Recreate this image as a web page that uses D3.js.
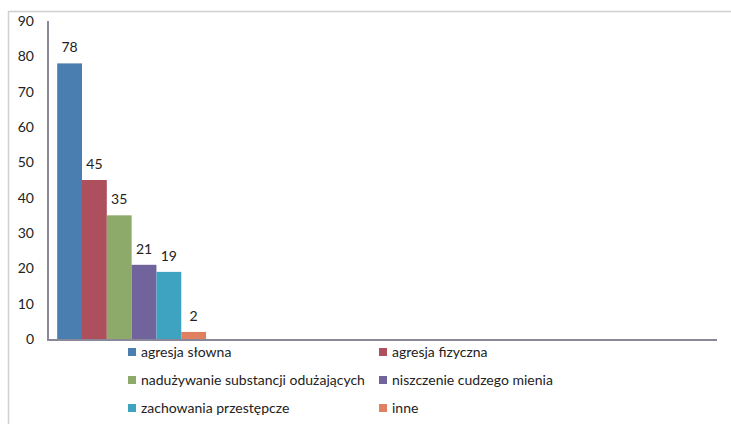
<!DOCTYPE html>
<html>
<head>
<meta charset="utf-8">
<script src="https://d3js.org/d3.v7.min.js"></script>
<style>
  body { margin: 0; background: #fff; }
  svg text { font-family: Lato, "Open Sans", sans-serif; fill: #222; }
  .tick-label { font-size: 14px; }
  .bar-label { font-size: 14px; }
  .legend-text { font-size: 14px; }
</style>
</head>
<body>
<div id="chart"></div>
<script>
// ---------- DATA -----------
var categories = ["k1", "k2", "k3", "k4"];   // only the first one has data
var seriesNames = ["agresja słowna", "agresja fizyczna", "nadużywanie substancji odużających",
                   "niszczenie cudzego mienia", "zachowania przestępcze", "inne"];
var seriesValues = [78, 45, 35, 21, 19, 2];
var seriesColors = ["#4a7eb0", "#ae4f5e", "#8eaa6a", "#71649c", "#3ea3c0", "#e08060"];
var yTicks = [0, 10, 20, 30, 40, 50, 60, 70, 80, 90];

var width = 731, height = 424;

var svg = d3.select("#chart").append("svg")
  .attr("width", width)
  .attr("height", height);

// frame (only top + left edges show in the crop)
svg.append("line").attr("x1", 8).attr("x2", width).attr("y1", 11.5).attr("y2", 11.5)
  .attr("stroke", "#cfcfd4").attr("stroke-width", 1.5);
svg.append("line").attr("x1", 8.5).attr("x2", 8.5).attr("y1", 11).attr("y2", height)
  .attr("stroke", "#cfcfd4").attr("stroke-width", 1.5);

var x0 = d3.scaleBand().domain(categories).range([48, 717]).paddingInner(0).paddingOuter(0);
var x1 = d3.scaleBand().domain(seriesNames).range([0, x0.bandwidth()]).paddingInner(0).paddingOuter(0.37);
var y = d3.scaleLinear().domain([0, 90]).range([339, 21]);

// y tick labels
svg.selectAll(".tick-label")
  .data(yTicks)
  .enter()
  .append("text")
  .attr("class", "tick-label")
  .attr("x", 34)
  .attr("y", function(d) { return y(d); })
  .attr("dy", "0.35em")
  .attr("text-anchor", "end")
  .text(function(d) { return d; });

// bars
var group = svg.append("g").attr("transform", "translate(" + x0(categories[0]) + ",0)");

group.selectAll("rect")
  .data(seriesValues)
  .enter()
  .append("rect")
  .attr("x", function(d, i) { return x1(seriesNames[i]); })
  .attr("y", function(d) { return y(d); })
  .attr("width", x1.bandwidth())
  .attr("height", function(d) { return y(0) - y(d); })
  .attr("fill", function(d, i) { return seriesColors[i]; });

group.selectAll(".bar-label")
  .data(seriesValues)
  .enter()
  .append("text")
  .attr("class", "bar-label")
  .attr("x", function(d, i) { return x1(seriesNames[i]) + x1.bandwidth() / 2; })
  .attr("y", function(d) { return y(d) - 11; })
  .attr("text-anchor", "middle")
  .text(function(d) { return d; });

// axes
svg.append("line").attr("x1", 48).attr("x2", 48).attr("y1", 21).attr("y2", 340)
  .attr("stroke", "#8a8898").attr("stroke-width", 2);
svg.append("line").attr("x1", 47).attr("x2", 717).attr("y1", 340).attr("y2", 340)
  .attr("stroke", "#8a8898").attr("stroke-width", 2);

// ---------- LEGEND -----------
var legendX = [128, 379];
var legendY = [352, 380, 408];

var legend = svg.selectAll(".legend")
  .data(seriesNames)
  .enter()
  .append("g")
  .attr("class", "legend")
  .attr("transform", function(d, i) {
    return "translate(" + legendX[i % 2] + "," + legendY[Math.floor(i / 2)] + ")";
  });

legend.append("rect")
  .attr("x", 0).attr("y", -4)
  .attr("width", 8).attr("height", 8)
  .attr("fill", function(d, i) { return seriesColors[i]; });

legend.append("text")
  .attr("class", "legend-text")
  .attr("x", 13)
  .attr("dy", "0.35em")
  .text(function(d) { return d; });
</script>
</body>
</html>
